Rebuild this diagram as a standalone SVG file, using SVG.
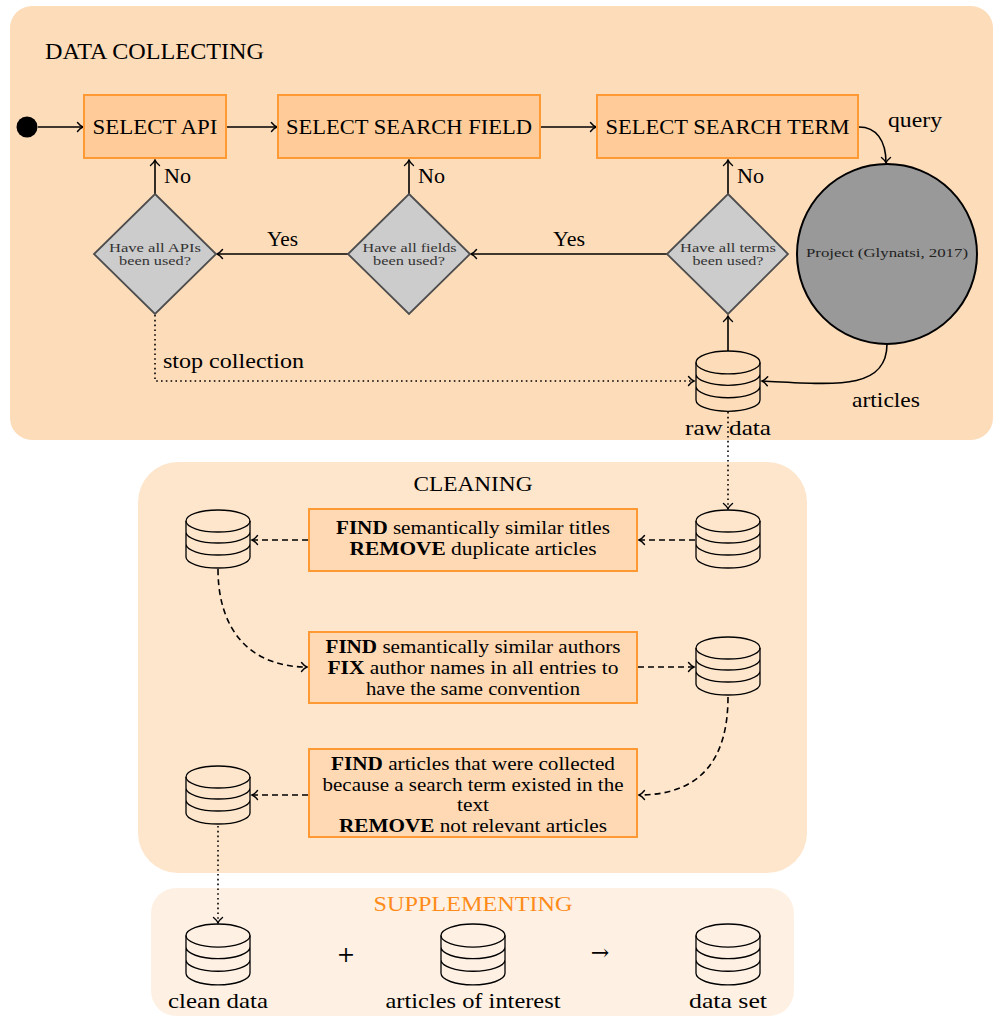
<svg xmlns="http://www.w3.org/2000/svg" xmlns:xlink="http://www.w3.org/1999/xlink" width="994" height="1016" viewBox="0 0 994 1016">
<style>
text{font-family:"Liberation Serif","Times New Roman",serif;fill:#000}
.big{font-size:21.5px}
.lbl{font-size:21px}
.mid{font-size:18px}
.tiny{font-size:11.5px;fill:#333}
.box{fill:#ffcc99;stroke:#ff9933;stroke-width:2}
.cbox{fill:#ffd9b3;stroke:#ff9933;stroke-width:2}
.dia{fill:#cccccc;stroke:#4d4d4d;stroke-width:1.8}
.ln{fill:none;stroke:#000;stroke-width:1.6}
.dash{fill:none;stroke:#000;stroke-width:1.6;stroke-dasharray:6 4}
.dot{fill:none;stroke:#000;stroke-width:1.6;stroke-dasharray:1.6 3.2}
.cyl{fill:none;stroke:#000;stroke-width:1.3}
.sym{font-family:"DejaVu Serif","Liberation Serif",serif;font-size:22px}
</style>
<defs>
<marker id="ar" markerUnits="userSpaceOnUse" viewBox="-7 -6 9 12" refX="0" refY="0" markerWidth="9" markerHeight="12" orient="auto">
<path d="M-5.5,-4.5 C-3.5,-2 -1.5,-0.6 0,0 C-1.5,0.6 -3.5,2 -5.5,4.5" fill="none" stroke="#000" stroke-width="1.4" stroke-linecap="round"/>
</marker>
<g id="db">
<ellipse cx="0" cy="11" rx="32" ry="11" class="cyl"/>
<path class="cyl" d="M-32,11 V47 A32,11 0 0 0 32,47 V11 M-32,22 A32,11 0 0 0 32,22 M-32,34 A32,11 0 0 0 32,34"/>
</g>
</defs>

<g id="panels">
<rect x="10" y="6" width="983" height="434" rx="22" fill="#fddcb9"/>
<rect x="138" y="462" width="669" height="411" rx="40" fill="#fee6cd"/>
<rect x="151" y="888" width="643" height="128" rx="25" fill="#fef1e4"/>
</g>

<g id="titles">
<text x="45" y="59" style="font-size:23px" textLength="219" lengthAdjust="spacingAndGlyphs">DATA COLLECTING</text>
<text x="473" y="491" class="lbl" text-anchor="middle" textLength="119" lengthAdjust="spacingAndGlyphs">CLEANING</text>
<text x="473" y="911" class="lbl" text-anchor="middle" style="fill:#ff8c1a" textLength="199" lengthAdjust="spacingAndGlyphs">SUPPLEMENTING</text>
</g>

<g id="connectors">
<line class="ln" x1="38" y1="127" x2="83" y2="127" marker-end="url(#ar)"/>
<line class="ln" x1="227" y1="127" x2="277" y2="127" marker-end="url(#ar)"/>
<line class="ln" x1="541" y1="127" x2="596" y2="127" marker-end="url(#ar)"/>
<path class="ln" d="M859,127 C876,127 886,140 886,163" marker-end="url(#ar)"/>
<line class="ln" x1="155" y1="194" x2="155" y2="160" marker-end="url(#ar)"/>
<line class="ln" x1="409" y1="194" x2="409" y2="160" marker-end="url(#ar)"/>
<line class="ln" x1="728" y1="194" x2="728" y2="160" marker-end="url(#ar)"/>
<line class="ln" x1="667" y1="254" x2="471" y2="254" marker-end="url(#ar)"/>
<line class="ln" x1="348" y1="254" x2="217" y2="254" marker-end="url(#ar)"/>
<line class="ln" x1="728" y1="351" x2="728" y2="316" marker-end="url(#ar)"/>
<path class="ln" d="M887,344 C887,392 830,384 762,381" marker-end="url(#ar)"/>
<path class="dot" d="M155,315 V381 H694" marker-end="url(#ar)"/>
<line class="dot" x1="728" y1="412" x2="728" y2="509" marker-end="url(#ar)"/>
<line class="dash" x1="695" y1="540" x2="639" y2="540" marker-end="url(#ar)"/>
<line class="dash" x1="308" y1="540" x2="252" y2="540" marker-end="url(#ar)"/>
<path class="dash" d="M218,569 C218,630 250,667 307,667" marker-end="url(#ar)"/>
<line class="dash" x1="638" y1="667" x2="694" y2="667" marker-end="url(#ar)"/>
<path class="dash" d="M728,697 C728,760 700,795 639,795" marker-end="url(#ar)"/>
<line class="dash" x1="308" y1="795" x2="252" y2="795" marker-end="url(#ar)"/>
<line class="dot" x1="218" y1="826" x2="218" y2="923" marker-end="url(#ar)"/>
<text x="888" y="127" class="lbl" textLength="54" lengthAdjust="spacingAndGlyphs">query</text>
<text x="164" y="183" class="lbl" textLength="27" lengthAdjust="spacingAndGlyphs">No</text>
<text x="418" y="183" class="lbl" textLength="27" lengthAdjust="spacingAndGlyphs">No</text>
<text x="737" y="183" class="lbl" textLength="27" lengthAdjust="spacingAndGlyphs">No</text>
<text x="267" y="246" class="lbl" textLength="31" lengthAdjust="spacingAndGlyphs">Yes</text>
<text x="553" y="246" class="lbl" textLength="32" lengthAdjust="spacingAndGlyphs">Yes</text>
<text x="163" y="368" class="lbl" textLength="141" lengthAdjust="spacingAndGlyphs">stop collection</text>
<text x="852" y="407" class="lbl" textLength="68" lengthAdjust="spacingAndGlyphs">articles</text>
</g>

<g id="start"><circle cx="27" cy="127" r="10.5" fill="#000"/></g>

<g id="select-api">
<rect class="box" x="84" y="95" width="142" height="63"/>
<text x="155" y="134" class="big" text-anchor="middle" textLength="125" lengthAdjust="spacingAndGlyphs">SELECT API</text>
</g>
<g id="select-field">
<rect class="box" x="278" y="95" width="262" height="63"/>
<text x="409" y="134" class="big" text-anchor="middle" textLength="246" lengthAdjust="spacingAndGlyphs">SELECT SEARCH FIELD</text>
</g>
<g id="select-term">
<rect class="box" x="597" y="95" width="261" height="63"/>
<text x="727.5" y="134" class="big" text-anchor="middle" textLength="244" lengthAdjust="spacingAndGlyphs">SELECT SEARCH TERM</text>
</g>

<g id="dec-api">
<polygon class="dia" points="155,194 216,254 155,314 94,254"/>
<text x="155" y="252" class="tiny" text-anchor="middle" textLength="92" lengthAdjust="spacingAndGlyphs">Have all APIs</text>
<text x="155" y="265" class="tiny" text-anchor="middle" textLength="72" lengthAdjust="spacingAndGlyphs">been used?</text>
</g>
<g id="dec-fields">
<polygon class="dia" points="409,194 470,254 409,314 348,254"/>
<text x="409.5" y="252" class="tiny" text-anchor="middle" textLength="94" lengthAdjust="spacingAndGlyphs">Have all fields</text>
<text x="409" y="265" class="tiny" text-anchor="middle" textLength="72" lengthAdjust="spacingAndGlyphs">been used?</text>
</g>
<g id="dec-terms">
<polygon class="dia" points="728,194 788,254 728,314 667,254"/>
<text x="728" y="252" class="tiny" text-anchor="middle" textLength="96" lengthAdjust="spacingAndGlyphs">Have all terms</text>
<text x="728" y="265" class="tiny" text-anchor="middle" textLength="71" lengthAdjust="spacingAndGlyphs">been used?</text>
</g>

<g id="project">
<circle cx="887" cy="254" r="90" fill="#999999" stroke="#000" stroke-width="2"/>
<text x="887" y="257" class="tiny" style="fill:#222" text-anchor="middle" textLength="162" lengthAdjust="spacingAndGlyphs">Project (Glynatsi, 2017)</text>
</g>

<g id="raw-data">
<use xlink:href="#db" href="#db" transform="translate(728,351) scale(1,1.04)"/>
<text x="728" y="435" class="lbl" text-anchor="middle" textLength="86" lengthAdjust="spacingAndGlyphs">raw data</text>
</g>

<g id="clean-in"><use xlink:href="#db" href="#db" x="728" y="510"/></g>
<g id="clean-1"><use xlink:href="#db" href="#db" x="218" y="510"/></g>
<g id="clean-2"><use xlink:href="#db" href="#db" x="728" y="637"/></g>
<g id="clean-3"><use xlink:href="#db" href="#db" x="218" y="766"/></g>

<g id="step-titles">
<rect class="cbox" x="309" y="509" width="328" height="62"/>
<text x="473" y="534" class="mid" text-anchor="middle" textLength="274" lengthAdjust="spacingAndGlyphs"><tspan font-weight="bold">FIND</tspan> semantically similar titles</text>
<text x="473" y="555" class="mid" text-anchor="middle" textLength="247" lengthAdjust="spacingAndGlyphs"><tspan font-weight="bold">REMOVE</tspan> duplicate articles</text>
</g>
<g id="step-authors">
<rect class="cbox" x="309" y="632" width="328" height="71"/>
<text x="473" y="653" class="mid" text-anchor="middle" textLength="295" lengthAdjust="spacingAndGlyphs"><tspan font-weight="bold">FIND</tspan> semantically similar authors</text>
<text x="473" y="674" class="mid" text-anchor="middle" textLength="291" lengthAdjust="spacingAndGlyphs"><tspan font-weight="bold">FIX</tspan> author names in all entries to</text>
<text x="473" y="695" class="mid" text-anchor="middle" textLength="214" lengthAdjust="spacingAndGlyphs">have the same convention</text>
</g>
<g id="step-relevance">
<rect class="cbox" x="309" y="749" width="328" height="88"/>
<text x="473" y="770" class="mid" text-anchor="middle" textLength="284" lengthAdjust="spacingAndGlyphs"><tspan font-weight="bold">FIND</tspan> articles that were collected</text>
<text x="473" y="791" class="mid" text-anchor="middle" textLength="301" lengthAdjust="spacingAndGlyphs">because a search term existed in the</text>
<text x="473" y="811" class="mid" text-anchor="middle" textLength="32" lengthAdjust="spacingAndGlyphs">text</text>
<text x="473" y="832" class="mid" text-anchor="middle" textLength="268" lengthAdjust="spacingAndGlyphs"><tspan font-weight="bold">REMOVE</tspan> not relevant articles</text>
</g>

<g id="clean-data">
<use xlink:href="#db" href="#db" transform="translate(218,924) scale(1,1.05)"/>
<text x="218" y="1008" class="lbl" text-anchor="middle" textLength="100" lengthAdjust="spacingAndGlyphs">clean data</text>
</g>
<g id="plus"><text x="346" y="962" class="sym" text-anchor="middle">+</text></g>
<g id="articles-of-interest">
<use xlink:href="#db" href="#db" transform="translate(473,924) scale(1,1.05)"/>
<text x="473" y="1008" class="lbl" text-anchor="middle" textLength="175" lengthAdjust="spacingAndGlyphs">articles of interest</text>
</g>
<g id="arrow-sym"><text x="600" y="960" class="sym" text-anchor="middle">→</text></g>
<g id="data-set">
<use xlink:href="#db" href="#db" transform="translate(728,924) scale(1,1.05)"/>
<text x="728" y="1008" class="lbl" text-anchor="middle" textLength="78" lengthAdjust="spacingAndGlyphs">data set</text>
</g>
</svg>
